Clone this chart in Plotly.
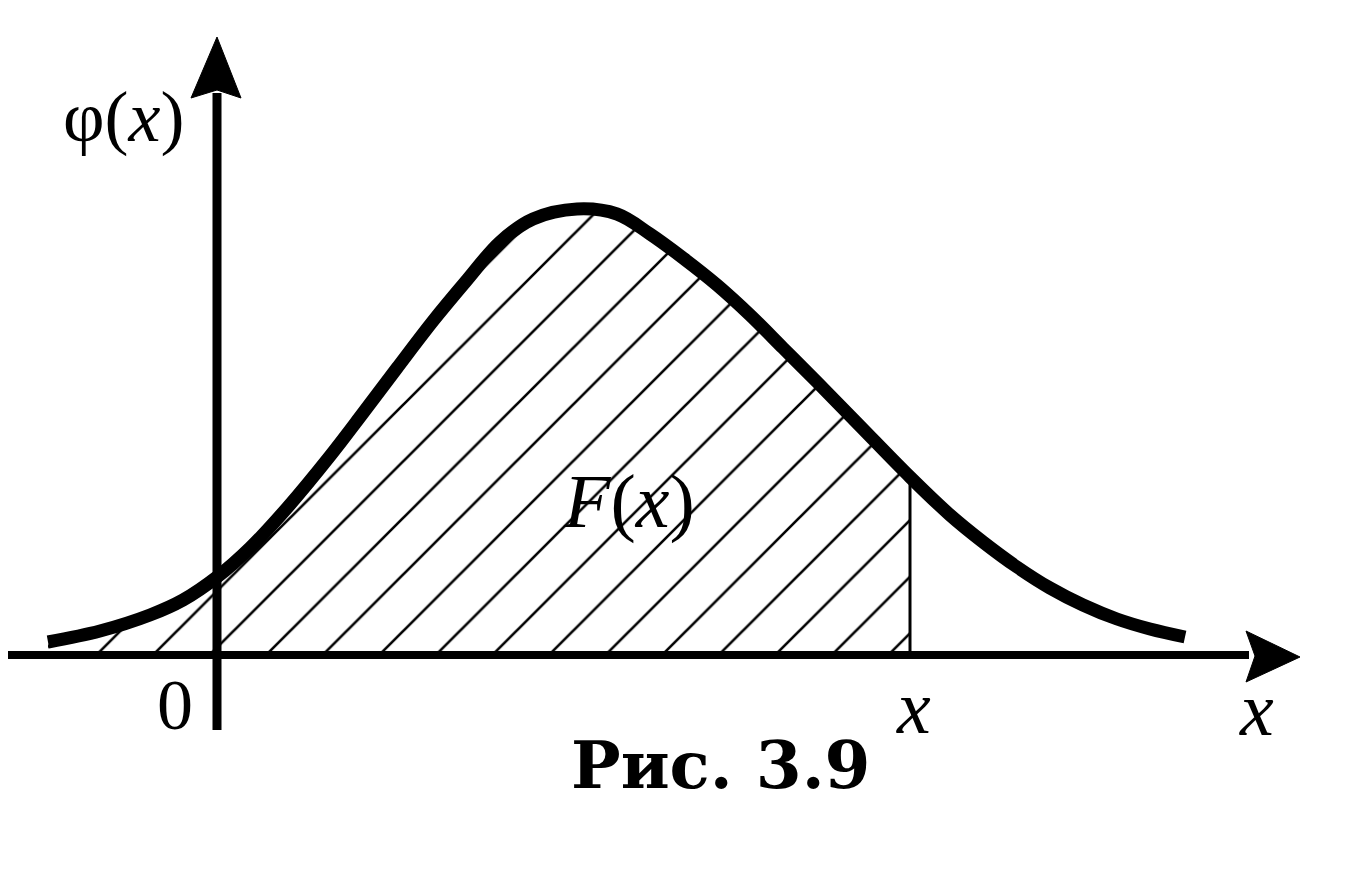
import plotly.graph_objects as go

# Density curve (arbitrary units, origin at the axes crossing)
curve_x = [-1.69, -1.17, -0.67, -0.34, 0.00, 0.33, 0.70, 1.13, 1.46, 1.80, 2.16, 2.50,
           2.83, 3.16, 3.60, 4.00, 4.33, 4.66, 5.00, 5.33, 5.66, 6.00, 6.43, 6.93,
           7.33, 7.66, 8.00, 8.33, 8.66, 9.00, 9.33, 9.68]
curve_y = [0.13, 0.24, 0.40, 0.55, 0.78, 1.07, 1.47, 1.99, 2.42, 2.87, 3.34, 3.75,
           4.13, 4.36, 4.46, 4.41, 4.21, 3.97, 3.70, 3.40, 3.07, 2.73, 2.29, 1.78,
           1.40, 1.13, 0.88, 0.67, 0.50, 0.36, 0.26, 0.18]
X_CUT = 6.93  # position of the marked value x

# Axis extents (page has an 8px body margin, compensated here)
X_RANGE = [-2.09, 11.21]
Y_RANGE = [-2.26, 6.47]
YAXIS_BOTTOM, YAXIS_TOP, YAXIS_TIP = -0.75, 5.62, 6.18
XAXIS_LEFT, XAXIS_RIGHT, XAXIS_TIP = -2.2, 10.32, 10.83

fill_x = [x for x in curve_x if x <= X_CUT]
fill_y = curve_y[:len(fill_x)]
cut_y = curve_y[curve_x.index(X_CUT)]

fig = go.Figure()

# hatched area F(x)
fig.add_trace(go.Scatter(
    x=fill_x, y=fill_y, mode="lines", line=dict(width=0, shape="spline", smoothing=1.0),
    fill="tozeroy", fillcolor="white",
    fillpattern=dict(shape="/", size=40, solidity=0.065, fgcolor="black",
                     bgcolor="white", fillmode="replace"),
    hoverinfo="skip", showlegend=False))

# vertical line at x
fig.add_trace(go.Scatter(x=[X_CUT, X_CUT], y=[0, cut_y], mode="lines",
                         line=dict(color="black", width=3), showlegend=False))

# density curve
fig.add_trace(go.Scatter(x=curve_x, y=curve_y, mode="lines",
                         line=dict(color="black", width=13, shape="spline", smoothing=1.0),
                         showlegend=False))

shapes = [
    dict(type="line", xref="x", yref="y", x0=0, x1=0, y0=YAXIS_BOTTOM, y1=YAXIS_TOP,
         line=dict(color="black", width=9)),
    dict(type="line", xref="x", yref="y", x0=XAXIS_LEFT, x1=XAXIS_RIGHT, y0=0, y1=0,
         line=dict(color="black", width=8)),
    dict(type="path", xref="x", yref="y",
         path=f"M -0.26,{YAXIS_TOP - 0.05} L 0,{YAXIS_TIP} L 0.24,{YAXIS_TOP - 0.05} L 0,{YAXIS_TOP + 0.03} Z",
         fillcolor="black", line=dict(color="black", width=1)),
    dict(type="path", xref="x", yref="y",
         path=f"M {XAXIS_RIGHT - 0.03},0.24 L {XAXIS_TIP},-0.02 L {XAXIS_RIGHT - 0.03},-0.27 L {XAXIS_RIGHT + 0.06},-0.01 Z",
         fillcolor="black", line=dict(color="black", width=1)),
]

serif = "Liberation Serif"
annotations = [
    dict(x=-0.94, y=5.38, text="φ(<i>x</i>)", font=dict(family=serif, size=72, color="black")),
    dict(x=-0.42, y=-0.50, text="0", font=dict(family=serif, size=72, color="black")),
    dict(x=6.96, y=-0.52, text="<i>x</i>", font=dict(family=serif, size=76, color="black")),
    dict(x=10.39, y=-0.54, text="<i>x</i>", font=dict(family=serif, size=76, color="black")),
    dict(x=4.12, y=1.54, text="<i>F</i>(<i>x</i>)", font=dict(family=serif, size=76, color="black")),
    dict(x=5.04, y=-1.10, text="<b>Рис. 3.9</b>", font=dict(family="DejaVu Serif", size=66, color="black")),
]
for a in annotations:
    a.update(xref="x", yref="y", showarrow=False)

fig.update_layout(
    width=1330, height=873, margin=dict(l=0, r=0, t=0, b=0),
    paper_bgcolor="white", plot_bgcolor="white",
    xaxis=dict(range=X_RANGE, visible=False, fixedrange=True),
    yaxis=dict(range=Y_RANGE, visible=False, fixedrange=True),
    shapes=shapes, annotations=annotations, showlegend=False,
)

fig.write_html("out.html")
